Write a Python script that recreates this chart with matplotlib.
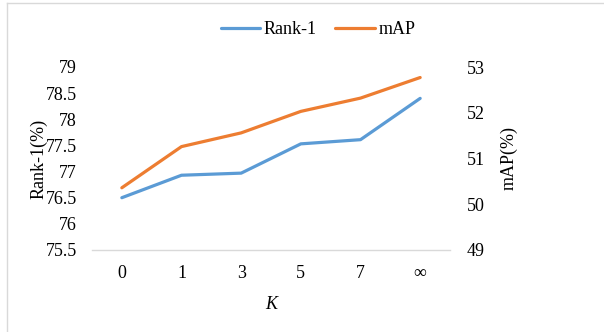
import matplotlib
matplotlib.use("Agg")
import matplotlib.pyplot as plt
from matplotlib.lines import Line2D

categories = ["0", "1", "3", "5", "7", "\u221e"]
rank1 = [76.5, 76.93, 76.97, 77.53, 77.61, 78.4]
mAP = [50.36, 51.26, 51.56, 52.03, 52.32, 52.77]
left_ticks = [75.5, 76, 76.5, 77, 77.5, 78, 78.5, 79]
right_ticks = [49, 50, 51, 52, 53]

plt.rcParams['font.family'] = ['Liberation Serif', 'DejaVu Serif']
FS = 13

fig = plt.figure(figsize=(6.04, 3.32), dpi=100)
W, H = 604, 332
ax = fig.add_axes([92 / W, 1 - 250 / H, (450 - 92) / W, (250 - 67) / H])
ax2 = ax.twinx()

x = list(range(len(categories)))
blue = "#5B9BD5"
orange = "#ED7D31"
l1, = ax.plot(x, rank1, color=blue, lw=2.3, solid_capstyle='round', label="Rank-1")
l2, = ax2.plot(x, mAP, color=orange, lw=2.3, solid_capstyle='round', label="mAP")

ax.set_xlim(-0.5, len(categories) - 0.5)
ax.set_ylim(75.5, 79)
ax.set_yticks(left_ticks)
ax.set_yticklabels(["%g" % t for t in left_ticks], fontsize=FS)
ax2.set_ylim(49, 53)
ax2.set_yticks(right_ticks)
ax2.set_yticklabels(["%g" % t for t in right_ticks], fontsize=FS)
ax.set_xticks(x)
ax.set_xticklabels(categories, fontsize=FS)

for a in (ax, ax2):
    for s in a.spines.values():
        s.set_visible(False)
ax.spines['bottom'].set_visible(True)
ax.spines['bottom'].set_color('#D9D9D9')
ax.spines['bottom'].set_linewidth(1.0)
ax.tick_params(axis='both', length=0)
ax.tick_params(axis='y', pad=11)
ax.tick_params(axis='x', pad=11)
ax2.tick_params(axis='y', length=0, pad=12)

ax.set_ylabel("Rank-1(%)", fontsize=FS)
ax.yaxis.set_label_coords(-0.125, 0.5)
ax2.set_ylabel("mAP(%)", fontsize=FS, rotation=90)
ax2.yaxis.set_label_coords(1.14, 0.5)
ax.set_xlabel("K", fontsize=FS, style='italic')
ax.xaxis.set_label_coords(0.5, -0.252)

fig.legend(handles=[l1, l2], loc='center', bbox_to_anchor=(318 / W, 1 - 30 / H),
           ncol=2, frameon=False, fontsize=FS, handlelength=2.2,
           handletextpad=0.2, columnspacing=1.0)

# outer chart border (left and top visible)
fig.add_artist(Line2D([7 / W, 7 / W], [0, 1 - 3 / H], color='#D9D9D9', lw=1.0,
                      transform=fig.transFigure))
fig.add_artist(Line2D([7 / W, 1], [1 - 3 / H, 1 - 3 / H], color='#D9D9D9', lw=1.0,
                      transform=fig.transFigure))

fig.savefig("out.png", dpi=100)
